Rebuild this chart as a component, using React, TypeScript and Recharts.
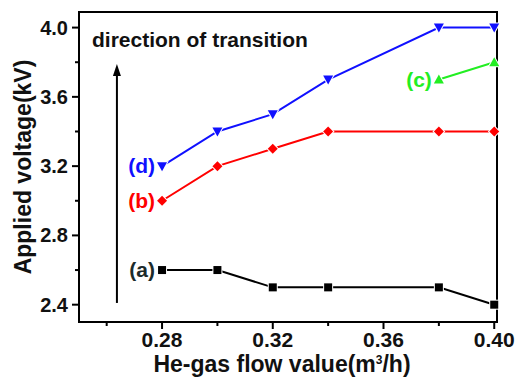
import React from "react";
import {
  ComposedChart,
  Line,
  XAxis,
  YAxis,
  ReferenceArea,
  ReferenceLine,
  LabelList,
} from "recharts";

const flowA = [0.28, 0.3, 0.32, 0.34, 0.38, 0.4];
const voltA = [2.6, 2.6, 2.5, 2.5, 2.5, 2.4];
const flowB = [0.28, 0.3, 0.32, 0.34, 0.38, 0.4];
const voltB = [3.0, 3.2, 3.3, 3.4, 3.4, 3.4];
const flowC = [0.38, 0.4];
const voltC = [3.7, 3.8];
const flowD = [0.28, 0.3, 0.32, 0.34, 0.38, 0.4];
const voltD = [3.2, 3.4, 3.5, 3.7, 4.0, 4.0];

const xTicks = [0.26, 0.28, 0.3, 0.32, 0.34, 0.36, 0.38, 0.4];
const xLabeled = [0.28, 0.32, 0.36, 0.4];
const yTicks = [2.4, 2.6, 2.8, 3.0, 3.2, 3.4, 3.6, 3.8, 4.0];
const yLabeled = [2.4, 2.8, 3.2, 3.6, 4.0];

const arrowX = 0.2637;
const arrowFrom = 2.41;
const arrowTo = 3.79;

const seriesNames = ["(a)", "(b)", "(c)", "(d)"];

const toPoints = (xs: number[], ys: number[]) =>
  xs.map((x, i) => ({ x, y: ys[i] }));

const FONT = "'Liberation Sans', Arial, sans-serif";

const isLabeled = (list: number[], v: number) =>
  list.some((t) => Math.abs(t - v) < 1e-6);

const XTick = (props: any) => {
  const { x, y, payload } = props;
  const major = isLabeled(xLabeled, payload.value);
  return (
    <g>
      <line x1={x} x2={x} y1={y} y2={y + (major ? 7 : 4)} stroke="#000" strokeWidth={2} />
      {major && (
        <text x={x} y={y + 25} textAnchor="middle" fontFamily={FONT} fontWeight="bold" fontSize={21} fill="#111">
          {payload.value.toFixed(2)}
        </text>
      )}
    </g>
  );
};

const YTick = (props: any) => {
  const { x, y, payload } = props;
  const major = isLabeled(yLabeled, payload.value);
  return (
    <g>
      <line x1={x} x2={x - (major ? 7 : 4)} y1={y} y2={y} stroke="#000" strokeWidth={2} />
      {major && (
        <text x={x - 11} y={y + 7} textAnchor="end" fontFamily={FONT} fontWeight="bold" fontSize={20} fill="#111">
          {payload.value.toFixed(1)}
        </text>
      )}
    </g>
  );
};

const makeDot = (kind: string, color: string) => (props: any) => {
  const { cx, cy, index } = props;
  if (cx == null || cy == null) return <g key={index} />;
  let shape: React.ReactNode;
  if (kind === "square") {
    shape = <rect x={cx - 4} y={cy - 4} width={8} height={8} fill={color} stroke="#fff" strokeWidth={2} paintOrder="stroke" />;
  } else if (kind === "diamond") {
    shape = (
      <polygon
        points={`${cx},${cy - 5} ${cx + 5},${cy} ${cx},${cy + 5} ${cx - 5},${cy}`}
        fill={color}
        stroke="#fff"
        strokeWidth={2}
        paintOrder="stroke"
      />
    );
  } else if (kind === "up") {
    shape = (
      <polygon
        points={`${cx},${cy - 5} ${cx + 5},${cy + 4} ${cx - 5},${cy + 4}`}
        fill={color}
        stroke="#fff"
        strokeWidth={2}
        paintOrder="stroke"
      />
    );
  } else {
    shape = (
      <polygon
        points={`${cx - 5},${cy - 4} ${cx + 5},${cy - 4} ${cx},${cy + 5}`}
        fill={color}
        stroke="#fff"
        strokeWidth={2}
        paintOrder="stroke"
      />
    );
  }
  return <g key={index}>{shape}</g>;
};

const makeName = (name: string, color: string) => (props: any) => {
  const { x, y, index } = props;
  if (index !== 0) return null;
  return (
    <text x={x - 7} y={y + 7} textAnchor="end" fontFamily={FONT} fontWeight="bold" fontSize={21} fill={color}>
      {name}
    </text>
  );
};

const Arrow = (props: any) => {
  const { x1, y1, x2, y2 } = props;
  return (
    <g>
      <line x1={x1} y1={y1} x2={x2} y2={y2 + 8} stroke="#000" strokeWidth={2} />
      <polygon points={`${x2},${y2} ${x2 + 4},${y2 + 12} ${x2 - 4},${y2 + 12}`} fill="#000" />
    </g>
  );
};

const series = [
  { name: seriesNames[0], data: toPoints(flowA, voltA), color: "#000000", labelColor: "#1c2b2b", kind: "square" },
  { name: seriesNames[1], data: toPoints(flowB, voltB), color: "#ff0000", labelColor: "#ff0000", kind: "diamond" },
  { name: seriesNames[2], data: toPoints(flowC, voltC), color: "#22ee22", labelColor: "#22ee22", kind: "up" },
  { name: seriesNames[3], data: toPoints(flowD, voltD), color: "#1010ff", labelColor: "#1010ff", kind: "down" },
];

export default function App() {
  return (
    <div style={{ position: "absolute", left: 0, top: 0, width: 515, height: 379, background: "#fff", overflow: "hidden" }}>
      <ComposedChart width={515} height={379} margin={{ top: 12, right: 18, left: 0, bottom: 0 }}>
        <XAxis
          dataKey="x"
          type="number"
          domain={[0.25, 0.401]}
          ticks={xTicks}
          tick={<XTick />}
          tickSize={0}
          tickMargin={0}
          tickLine={false}
          axisLine={{ stroke: "#000", strokeWidth: 2 }}
          height={57}
          allowDuplicatedCategory={false}
        />
        <YAxis
          dataKey="y"
          type="number"
          domain={[2.3, 4.09]}
          ticks={yTicks}
          tick={<YTick />}
          tickSize={0}
          tickMargin={0}
          tickLine={false}
          axisLine={{ stroke: "#000", strokeWidth: 2 }}
          width={79}
        />
        <ReferenceArea x1={0.25} x2={0.401} y1={2.3} y2={4.09} fill="none" stroke="#000" strokeWidth={2} ifOverflow="visible" />
        <ReferenceLine
          segment={[
            { x: arrowX, y: arrowFrom },
            { x: arrowX, y: arrowTo },
          ]}
          shape={<Arrow />}
          ifOverflow="visible"
        />
        {series.map((s) => (
          <Line
            key={s.name}
            data={s.data}
            dataKey="y"
            type="linear"
            stroke={s.color}
            strokeWidth={2}
            dot={makeDot(s.kind, s.color)}
            activeDot={false}
            isAnimationActive={false}
          >
            <LabelList dataKey="y" content={makeName(s.name, s.labelColor)} />
          </Line>
        ))}
      </ComposedChart>
      <div
        style={{
          position: "absolute",
          left: 92,
          top: 28,
          lineHeight: "24px",
          fontFamily: FONT,
          fontWeight: "bold",
          fontSize: 21,
          color: "#111",
          whiteSpace: "nowrap",
        }}
      >
        direction of transition
      </div>
      <div
        style={{
          position: "absolute",
          left: -127,
          top: 152,
          width: 300,
          height: 30,
          lineHeight: "30px",
          textAlign: "center",
          transform: "rotate(-90deg)",
          transformOrigin: "center",
          fontFamily: FONT,
          fontWeight: "bold",
          fontSize: 23,
          color: "#111",
          whiteSpace: "nowrap",
        }}
      >
        Applied voltage(kV)
      </div>
      <div
        style={{
          position: "absolute",
          left: -18,
          width: 600,
          top: 351,
          lineHeight: "26px",
          textAlign: "center",
          fontFamily: FONT,
          fontWeight: "bold",
          fontSize: 23,
          color: "#111",
          whiteSpace: "nowrap",
        }}
      >
        He-gas flow value(m<sup style={{ fontSize: 12, lineHeight: 0, verticalAlign: "8px" }}>3</sup>/h)
      </div>
    </div>
  );
}
